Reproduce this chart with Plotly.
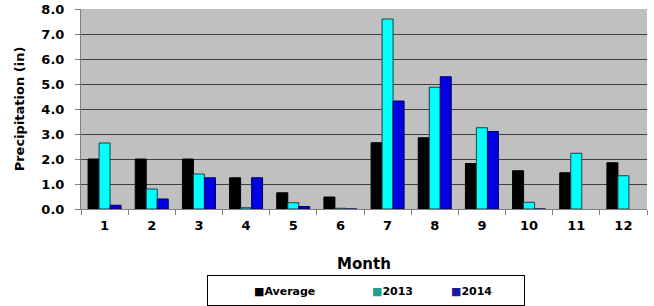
import plotly.graph_objects as go

months = ["1", "2", "3", "4", "5", "6", "7", "8", "9", "10", "11", "12"]
average = [2.0, 2.0, 2.0, 1.25, 0.65, 0.48, 2.65, 2.85, 1.82, 1.53, 1.45, 1.85]
y2013 = [2.64, 0.8, 1.4, 0.05, 0.25, 0.03, 7.6, 4.87, 3.25, 0.27, 2.23, 1.33]
y2014 = [0.15, 0.4, 1.25, 1.25, 0.1, 0.0, 4.32, 5.29, 3.1, 0.0, None, None]
y_ticks = [0, 1, 2, 3, 4, 5, 6, 7, 8]
y_tick_text = ["0.0", "1.0", "2.0", "3.0", "4.0", "5.0", "6.0", "7.0", "8.0"]

series = [
    ("Average", average, "#000000", "#000000", "#000000", 67),
    ("2013", y2013, "#00FFFF", "#1a4040", "#1FA08A", 28),
    ("2014", y2014, "#0000E0", "#000060", "#1A1A9A", 68),
]

FONT = "DejaVu Sans, Liberation Sans, Arial, sans-serif"

fig = go.Figure()
for name, vals, fill, edge, legcol, lw in series:
    fig.add_trace(go.Bar(x=months, y=vals, name=name, showlegend=False,
                         marker=dict(color=fill, line=dict(color=edge, width=1))))
for name, vals, fill, edge, legcol, lw in series:
    # legend entry: small square glyph before the name, as in the original
    fig.add_trace(go.Scatter(
        x=[None], y=[None], mode="markers", showlegend=True,
        name="<span style='color:%s'>■</span><b>%s</b>" % (legcol, name),
        marker=dict(size=0.1, color="rgba(0,0,0,0)"),
        legendwidth=lw,
    ))

fig.update_layout(
    width=654, height=306,
    margin=dict(l=81, r=7, t=9, b=97, autoexpand=False),
    paper_bgcolor="white",
    plot_bgcolor="#C0C0C0",
    barmode="group",
    bargap=0.3,
    bargroupgap=0.0,
    font=dict(family=FONT, color="#000000"),
    xaxis=dict(
        title=dict(text="<b>Month</b>", font=dict(size=15), standoff=26),
        tickfont=dict(size=13),
        tickvals=months,
        ticktext=["<b>%s</b>" % m for m in months],
        ticks="outside", tickson="boundaries", ticklen=5, tickcolor="#808080",
        ticklabelstandoff=4,
        showline=True, linecolor="#808080", linewidth=1,
        showgrid=False,
    ),
    yaxis=dict(
        title=dict(text="<b>Precipitation (in)</b>", font=dict(size=13), standoff=13),
        range=[0, 8],
        tickvals=y_ticks,
        ticktext=["<b>%s</b>" % t for t in y_tick_text],
        tickfont=dict(size=13),
        ticks="outside", ticklen=5, tickcolor="#808080",
        ticklabelstandoff=8,
        showline=True, linecolor="#808080", linewidth=1,
        showgrid=True, gridcolor="#404040", gridwidth=1,
        zeroline=False,
    ),
    legend=dict(
        orientation="h", x=0.2226, xanchor="left", y=-0.33, yanchor="top",
        bordercolor="#000000", borderwidth=1,
        font=dict(size=11),
        indentation=6,
    ),
)

fig.write_html("out.html", config={"displayModeBar": False},
               post_script="document.body.style.margin='0';")
